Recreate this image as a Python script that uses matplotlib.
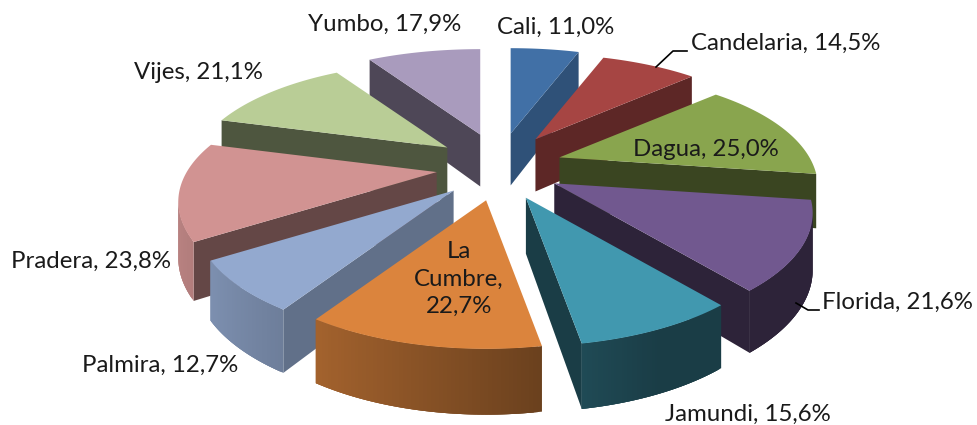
import numpy as np
import matplotlib
matplotlib.use('Agg')
import matplotlib.pyplot as plt
from matplotlib.patches import Polygon
from matplotlib.colors import to_rgb

plt.rcParams['font.family'] = ['Lato', 'DejaVu Sans']

# data, clockwise from 12 o'clock
names = ['Cali', 'Candelaria', 'Dagua', 'Florida', 'Jamundi',
         'La Cumbre', 'Palmira', 'Pradera', 'Vijes', 'Yumbo']
values = [11.0, 14.5, 25.0, 21.6, 15.6, 22.7, 12.7, 23.8, 21.1, 17.9]
colors = ['#4170A6', '#A64543', '#89A54E', '#71588F', '#4198AF',
          '#DB843D', '#93A9CF', '#D19392', '#B9CD96', '#A99BBD']
inner_shade = [0.72, 0.56, 0.42, 0.40, 0.40, 0.5, 0.66, 0.48, 0.42, 0.46]

# fake 3D projection (all in pixels)
cx, cy = 499, 167
rx, ry = 250, 117
persp = 0.27
ex, ey = 63, 34
depth = 54


def rim(theta):
    u, v = np.sin(theta), -np.cos(theta)
    s = 1 + persp * v
    return rx * u * s, ry * v * s


def drop(y):
    # walls get a little taller towards the viewer
    return depth * (1 + 0.0012 * (y - cy))


def shade(col, f):
    return tuple(min(1, c * f) for c in to_rgb(col))


fig = plt.figure(figsize=(9.77, 4.25), dpi=100)
ax = fig.add_axes([0, 0, 1, 1])
ax.set_xlim(0, 977)
ax.set_ylim(425, 0)
ax.axis('off')

edges = np.cumsum([0] + values) / sum(values) * 2 * np.pi
slices = []
for i in range(len(values)):
    mid = (edges[i] + edges[i + 1]) / 2
    slices.append((-np.cos(mid), i, mid))

# back slices first so the front ones cover them
for _, i, mid in sorted(slices):
    ax_, ay_ = cx + ex * np.sin(mid), cy - ey * np.cos(mid)
    th = np.linspace(edges[i], edges[i + 1], 60)
    dx, dy = rim(th)
    xs = ax_ + dx
    ys = ay_ + dy
    col = colors[i]

    # radial faces, only when they look towards the viewer
    for (x0, y0, x1, y1) in [(ax_, ay_, xs[0], ys[0]), (xs[-1], ys[-1], ax_, ay_)]:
        if x1 < x0:
            quad = [(x0, y0), (x1, y1), (x1, y1 + drop(y1)), (x0, y0 + drop(y0))]
            ax.add_patch(Polygon(quad, closed=True, fc=shade(col, inner_shade[i]), ec='none'))

    # outer wall, split in strips for the gradient (overlapped so no seams show)
    for k in range(len(th) - 1):
        if xs[k + 1] < xs[k]:
            u = np.sin((th[k] + th[k + 1]) / 2)
            f = np.clip(0.55 - 0.35 * u, 0.40, 0.90)
            k2 = min(k + 3, len(th) - 1)
            quad = [(xs[k], ys[k]), (xs[k2], ys[k2]),
                    (xs[k2], ys[k2] + drop(ys[k2])), (xs[k], ys[k] + drop(ys[k]))]
            ax.add_patch(Polygon(quad, closed=True, fc=shade(col, f), ec='none'))

    # top face
    top = [(ax_, ay_)] + list(zip(xs, ys))
    ax.add_patch(Polygon(top, closed=True, fc=col, ec='none'))

# labels
fs = 17.3
txt = '#1a1a1a'


def lab(i):
    return f"{names[i]}, {values[i]:.1f}%".replace('.', ',')


ax.text(497, 27, lab(0), fontsize=fs, va='center', color=txt)
ax.text(691, 43, lab(1), fontsize=fs, va='center', color=txt)
ax.text(633, 149, lab(2), fontsize=fs, va='center', color=txt)
ax.text(822, 302, lab(3), fontsize=fs, va='center', color=txt)
ax.text(665, 414, lab(4), fontsize=fs, va='center', color=txt)
ax.text(459, 279, 'La\nCumbre,\n' + f"{values[5]:.1f}%".replace('.', ','), fontsize=fs,
        ha='center', va='center', color=txt, linespacing=1.4)
ax.text(82, 365, lab(6), fontsize=fs, va='center', color=txt)
ax.text(11, 261, lab(7), fontsize=fs, va='center', color=txt)
ax.text(134, 72, lab(8), fontsize=fs, va='center', color=txt)
ax.text(308, 24, lab(9), fontsize=fs, va='center', color=txt)

# leader lines
ax.plot([656, 673, 687], [67, 51, 51], color='black', lw=1.2)
ax.plot([796, 808, 819], [303, 310, 310], color='black', lw=1.2)

fig.savefig('out.png', dpi=100)
